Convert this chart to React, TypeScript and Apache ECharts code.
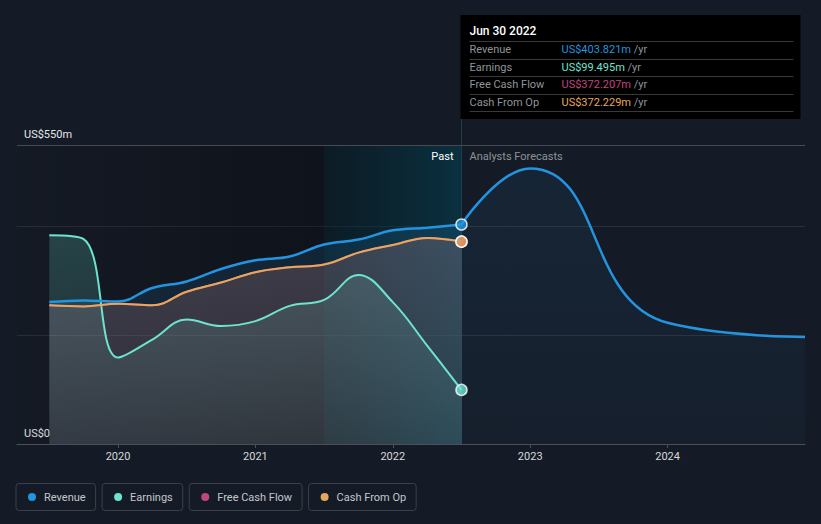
import React, { useEffect, useRef } from 'react';
import * as echarts from 'echarts';

// ---- data ----
const quarters = [2019.5, 2019.75, 2020, 2020.25, 2020.5, 2020.75, 2021, 2021.25, 2021.5, 2021.75, 2022, 2022.25, 2022.5];
const revenue = [261, 264, 262, 287, 299, 322, 338, 345, 367, 376, 393, 398, 403.821];
const earnings = [384, 377, 159, 192, 229, 217, 226, 254, 265, 311, 261, 181, 99.495];
const freeCashFlow = [255, 253, 258, 255, 280, 297, 316, 325, 330, 352, 366, 379, 372.207];
const cashFromOp = [255, 253, 258, 255, 280, 297, 316, 325, 330, 352, 366, 379, 372.229];
const forecastYears = [2022.5, 2023, 2024, 2025];
const revenueForecast = [403.821, 507, 223, 197];
const xTicks = [2020, 2021, 2022, 2023, 2024];
const yLabelValues = [0, 550];
const yLabelTexts = ['US$0', 'US$550m'];
const seriesNames = ['Revenue', 'Earnings', 'Free Cash Flow', 'Cash From Op'];
const pastBandStart = 2021.5;
const lastDateLabel = 'Jun 30 2022';
const xAxisMin = 2019.265;
const xAxisMax = 2025;
const yMax = 550;

const seriesColors = ['#2394df', '#6ee3cf', '#c2457f', '#e6a95c'];

function rgba(hex: string, a: number) {
  const n = parseInt(hex.slice(1), 16);
  return `rgba(${(n >> 16) & 255},${(n >> 8) & 255},${n & 255},${a})`;
}
function vgrad(hex: string, a0: number, a1: number) {
  return new echarts.graphic.LinearGradient(0, 0, 0, 1, [
    { offset: 0, color: rgba(hex, a0) },
    { offset: 1, color: rgba(hex, a1) },
  ]);
}
const pairs = (xs: number[], ys: number[]) => xs.map((x, i) => [x, ys[i]]);

export default function App() {
  const ref = useRef<HTMLDivElement>(null);

  useEffect(() => {
    document.body.style.margin = '0';
    const chart = echarts.init(ref.current!, null, { renderer: 'svg' });
    const last = quarters.length - 1;
    const lastX = quarters[last];
    const lastValues = [revenue[last], earnings[last], freeCashFlow[last], cashFromOp[last]];

    const rich: any = {
      g: { width: 8, lineHeight: 13 },
      t: { fontSize: 11, color: '#c3c7cc', lineHeight: 13 },
    };
    seriesColors.forEach((c, i) => {
      rich['d' + i] = { width: 8, height: 8, backgroundColor: c, borderRadius: 4, fontSize: 1 };
    });

    const lineSeries = (name: string, data: number[], color: string, width: number, a0: number, a1: number) => ({
      name,
      type: 'line',
      data: pairs(quarters, data),
      smooth: 0.4,
      showSymbol: false,
      z: 3,
      lineStyle: { color, width },
      itemStyle: { color },
      areaStyle: { color: vgrad(color, a0, a1), origin: 'start' },
      emphasis: { disabled: true },
    });

    const option: any = {
      animation: false,
      backgroundColor: '#151b26',
      textStyle: { fontFamily: 'Roboto, sans-serif' },
      grid: { left: 17, right: 16, top: 145, bottom: 80 },
      xAxis: {
        type: 'value',
        min: xAxisMin,
        max: xAxisMax,
        axisLine: { lineStyle: { color: '#4b5058' } },
        axisTick: { show: true, length: 4, lineStyle: { color: '#4b5058' }, customValues: xTicks },
        axisLabel: { color: '#d5d8dc', fontSize: 11, margin: 7, customValues: xTicks, formatter: (v: number) => String(v) },
        splitLine: { show: false },
      },
      yAxis: {
        type: 'value',
        min: 0,
        max: yMax,
        interval: 200,
        axisLine: { show: false },
        axisTick: { show: false },
        axisLabel: {
          inside: true,
          margin: 7,
          verticalAlign: 'bottom',
          padding: [0, 0, 5, 0],
          color: '#e4e6e9',
          fontSize: 11,
          formatter: (v: number) => {
            const i = yLabelValues.indexOf(v);
            return i >= 0 ? yLabelTexts[i] : '';
          },
        },
        splitLine: { lineStyle: { color: '#2a3039' } },
      },
      legend: {
        data: seriesNames,
        left: 10,
        bottom: 13,
        padding: 0,
        itemGap: 0,
        itemWidth: 0,
        itemHeight: 0,
        selectedMode: false,
        formatter: (name: string) => `{d${seriesNames.indexOf(name)}| }{g| }{t|${name}}`,
        textStyle: {
          color: '#c3c7cc',
          fontSize: 11,
          borderColor: '#3b4048',
          borderWidth: 1,
          borderRadius: 3,
          padding: [7, 10, 7, 12],
          rich,
        },
      },
      series: [
        {
          name: 'marks',
          type: 'line',
          data: [],
          z: 1,
          silent: true,
          markArea: {
            silent: true,
            data: [
              [
                {
                  xAxis: xAxisMin,
                  itemStyle: {
                    color: new echarts.graphic.LinearGradient(0, 0, 1, 0, [
                      { offset: 0, color: 'rgba(0,0,0,0.05)' },
                      { offset: 1, color: 'rgba(0,0,0,0.3)' },
                    ]),
                  },
                },
                { xAxis: pastBandStart },
              ],
              [
                {
                  xAxis: pastBandStart,
                  itemStyle: {
                    color: new echarts.graphic.LinearGradient(0, 0, 1, 0, [
                      { offset: 0, color: 'rgba(0,28,36,0.45)' },
                      { offset: 1, color: 'rgba(0,68,86,0.52)' },
                    ]),
                  },
                },
                { xAxis: lastX },
              ],
            ],
          },
          markLine: {
            silent: true,
            symbol: 'none',
            label: { show: false },
            lineStyle: { color: '#454a52', width: 1, type: 'solid' },
            data: [{ yAxis: yMax }],
          },
        },
        lineSeries(seriesNames[1], earnings, seriesColors[1], 2, 0.3, 0.12),
        lineSeries(seriesNames[2], freeCashFlow, seriesColors[2], 2, 0.2, 0.1),
        lineSeries(seriesNames[3], cashFromOp, seriesColors[3], 2, 0.2, 0.1),
        lineSeries(seriesNames[0], revenue, seriesColors[0], 2.5, 0.22, 0.08),
        {
          name: seriesNames[0],
          type: 'line',
          data: pairs(forecastYears, revenueForecast),
          smooth: 0.5,
          showSymbol: false,
          z: 3,
          lineStyle: { color: seriesColors[0], width: 2.5 },
          itemStyle: { color: seriesColors[0] },
          areaStyle: { color: vgrad(seriesColors[0], 0.12, 0.05), origin: 'start' },
        },
        {
          name: 'ends',
          type: 'scatter',
          z: 6,
          symbolSize: 11,
          data: lastValues.map((v, i) => ({
            value: [lastX, v],
            itemStyle: { color: seriesColors[i], borderColor: '#ffffff', borderWidth: 1.5 },
          })),
        },
      ],
    };
    chart.setOption(option);

    const px = chart.convertToPixel({ xAxisIndex: 0 }, lastX) as number;
    const baseY = chart.convertToPixel({ yAxisIndex: 0 }, 0) as number;
    const topY = chart.convertToPixel({ yAxisIndex: 0 }, yMax) as number;

    const boxX = px - 1;
    const boxY = 15;
    const rowH = 17.5;
    const graphics: any[] = [
      {
        type: 'line',
        z: 2,
        silent: true,
        shape: { x1: px, y1: boxY + 104, x2: px, y2: baseY },
        style: { stroke: '#1f3f4c', lineWidth: 1 },
      },
      {
        type: 'text',
        z: 4,
        x: px - 8,
        y: topY + 11,
        style: { text: 'Past', align: 'right', verticalAlign: 'middle', fill: '#ffffff', fontSize: 11, fontFamily: 'Roboto' },
      },
      {
        type: 'text',
        z: 4,
        x: px + 8,
        y: topY + 11,
        style: { text: 'Analysts Forecasts', align: 'left', verticalAlign: 'middle', fill: '#8d9298', fontSize: 11, fontFamily: 'Roboto' },
      },
      {
        type: 'rect',
        z: 10,
        shape: { x: boxX, y: boxY, width: 340, height: 104 },
        style: { fill: '#000000' },
      },
      {
        type: 'text',
        z: 11,
        x: boxX + 9,
        y: boxY + 16,
        style: { text: lastDateLabel, verticalAlign: 'middle', fill: '#ffffff', fontSize: 12, fontWeight: 500, fontFamily: 'Roboto' },
      },
    ];
    for (let i = 0; i <= 4; i++) {
      const ly = Math.round(boxY + 26 + i * rowH) + 0.5;
      graphics.push({
        type: 'line',
        z: 11,
        shape: { x1: boxX + 9, y1: ly, x2: boxX + 333, y2: ly },
        style: { stroke: '#3a3a3a', lineWidth: 1 },
      });
    }
    seriesNames.forEach((name, i) => {
      const cy = boxY + 26 + i * rowH + rowH / 2;
      graphics.push({
        type: 'text',
        z: 11,
        x: boxX + 9,
        y: cy,
        style: { text: name, verticalAlign: 'middle', fill: '#8f949a', fontSize: 11, fontFamily: 'Roboto' },
      });
      graphics.push({
        type: 'text',
        z: 11,
        x: boxX + 101,
        y: cy,
        style: {
          text: `{v|US$${lastValues[i].toFixed(3)}m} {u|/yr}`,
          verticalAlign: 'middle',
          fontSize: 11,
          fontFamily: 'Roboto',
          rich: {
            v: { fill: seriesColors[i], fontSize: 11, fontFamily: 'Roboto' },
            u: { fill: '#8f949a', fontSize: 11, fontFamily: 'Roboto' },
          },
        },
      });
    });
    chart.setOption({ graphic: graphics });

    return () => chart.dispose();
  }, []);

  return <div ref={ref} style={{ width: 821, height: 524 }} />;
}
